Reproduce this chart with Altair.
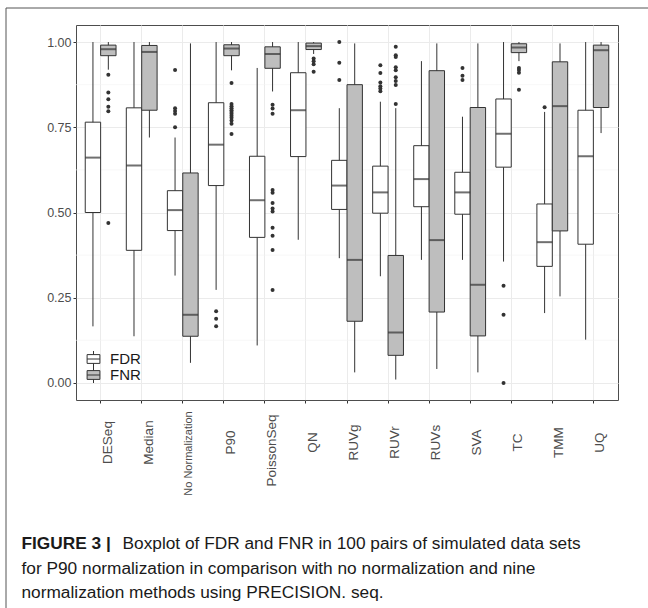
import altair as alt
import pandas as pd

FONT = "Liberation Sans"

METHODS = ["DESeq", "Median", "No Normalization", "P90", "PoissonSeq", "QN",
           "RUVg", "RUVr", "RUVs", "SVA", "TC", "TMM", "UQ"]
METRICS = ["FDR", "FNR"]

# FDR box statistics (lower whisker, Q1, median, Q3, upper whisker)
FDR_LOW = [0.166, 0.137, 0.315, 0.273, 0.110, 0.420, 0.366, 0.313, 0.361, 0.361, 0.356, 0.205, 0.127]
FDR_Q1 = [0.500, 0.389, 0.447, 0.579, 0.427, 0.664, 0.509, 0.498, 0.517, 0.495, 0.633, 0.342, 0.407]
FDR_MED = [0.661, 0.638, 0.507, 0.699, 0.536, 0.800, 0.579, 0.559, 0.598, 0.559, 0.731, 0.413, 0.665]
FDR_Q3 = [0.765, 0.807, 0.564, 0.822, 0.665, 0.910, 0.653, 0.636, 0.696, 0.618, 0.833, 0.525, 0.800]
FDR_HIGH = [1.000, 1.000, 0.720, 1.000, 0.924, 1.000, 0.806, 0.825, 0.944, 0.781, 1.000, 0.795, 1.000]

# FNR box statistics
FNR_LOW = [0.919, 0.720, 0.059, 0.917, 0.855, 0.965, 0.031, 0.010, 0.041, 0.031, 0.944, 0.254, 0.733]
FNR_Q1 = [0.960, 0.800, 0.137, 0.960, 0.923, 0.978, 0.181, 0.081, 0.208, 0.138, 0.969, 0.446, 0.808]
FNR_MED = [0.979, 0.971, 0.200, 0.981, 0.965, 0.988, 0.361, 0.148, 0.419, 0.288, 0.984, 0.812, 0.976]
FNR_Q3 = [0.991, 0.990, 0.616, 0.992, 0.986, 0.997, 0.875, 0.374, 0.916, 0.808, 0.995, 0.942, 0.991]
FNR_HIGH = [1.000, 1.000, 0.996, 1.000, 1.000, 1.000, 0.996, 0.806, 0.996, 0.996, 1.000, 0.996, 1.000]

# Outliers
OUT_DESEQ_FNR = [0.904, 0.852, 0.832, 0.810, 0.797, 0.469]
OUT_NONORM_FDR = [0.918, 0.806, 0.798, 0.790, 0.750]
OUT_P90_FDR = [0.210, 0.188, 0.166]
OUT_P90_FNR = [0.880, 0.818, 0.812, 0.806, 0.800, 0.795, 0.790, 0.784, 0.778, 0.770, 0.760, 0.730]
OUT_POISSON_FNR = [0.816, 0.805, 0.790, 0.566, 0.558, 0.528, 0.512, 0.503, 0.455, 0.432, 0.390, 0.273]
OUT_QN_FNR = [0.952, 0.944, 0.935, 0.913]
OUT_RUVG_FDR = [1.000, 0.939, 0.889]
OUT_RUVR_FDR = [0.932, 0.909, 0.881, 0.870, 0.864, 0.856]
OUT_RUVR_FNR = [0.986, 0.961, 0.956, 0.926, 0.917, 0.897, 0.886, 0.874, 0.818]
OUT_SVA_FDR = [0.924, 0.901, 0.889]
OUT_TC_FDR = [0.285, 0.200, 0.000]
OUT_TC_FNR = [0.924, 0.918, 0.910, 0.860]
OUT_TMM_FDR = [0.809]

OUTLIERS = [
    ("DESeq", "FNR", OUT_DESEQ_FNR),
    ("No Normalization", "FDR", OUT_NONORM_FDR),
    ("P90", "FDR", OUT_P90_FDR),
    ("P90", "FNR", OUT_P90_FNR),
    ("PoissonSeq", "FNR", OUT_POISSON_FNR),
    ("QN", "FNR", OUT_QN_FNR),
    ("RUVg", "FDR", OUT_RUVG_FDR),
    ("RUVr", "FDR", OUT_RUVR_FDR),
    ("RUVr", "FNR", OUT_RUVR_FNR),
    ("SVA", "FDR", OUT_SVA_FDR),
    ("TC", "FDR", OUT_TC_FDR),
    ("TC", "FNR", OUT_TC_FNR),
    ("TMM", "FDR", OUT_TMM_FDR),
]

Y_TICKS = [0.0, 0.25, 0.5, 0.75, 1.0]
MINOR_BREAKS = [0.125, 0.375, 0.625, 0.875]

CAPTION_BOLD = "FIGURE 3 |"
CAPTION_1 = "Boxplot of FDR and FNR in 100 pairs of simulated data sets"
CAPTION_2 = "for P90 normalization in comparison with no normalization and nine"
CAPTION_3 = "normalization methods using PRECISION. seq."

rows = []
for i, m in enumerate(METHODS):
    rows.append(dict(method=m, metric="FDR", lo=FDR_LOW[i], q1=FDR_Q1[i],
                     med=FDR_MED[i], q3=FDR_Q3[i], hi=FDR_HIGH[i]))
    rows.append(dict(method=m, metric="FNR", lo=FNR_LOW[i], q1=FNR_Q1[i],
                     med=FNR_MED[i], q3=FNR_Q3[i], hi=FNR_HIGH[i]))
stats = pd.DataFrame(rows)
outs = pd.DataFrame([dict(method=m, metric=k, value=v)
                     for m, k, vals in OUTLIERS for v in vals])

x_enc = alt.X(
    "method:N", sort=METHODS, title=None,
    scale=alt.Scale(paddingInner=0, paddingOuter=0.1),
    axis=alt.Axis(
        labelAngle=270, labelAlign="center", labelBaseline="top",
        labelPadding={"condition": [
            {"test": "datum.value == 'No Normalization'", "value": 50},
            {"test": "datum.value == 'PoissonSeq'", "value": 47}], "value": 39},
        labelFontSize={"condition": {"test": "datum.value == 'No Normalization'", "value": 11},
                       "value": 13.5},
        grid=True,
    ),
)
xo_enc = alt.XOffset("metric:N", sort=METRICS,
                     scale=alt.Scale(paddingInner=0, paddingOuter=1 / 3))
yscale = alt.Scale(domain=[-0.05, 1.05], nice=False, zero=False)
yaxis = alt.Axis(values=Y_TICKS, format=".2f", title=None, grid=True)

minor = alt.Chart(pd.DataFrame({"v": MINOR_BREAKS})).mark_rule(
    color="#F3F3F3", strokeWidth=0.6
).encode(y=alt.Y("v:Q", scale=yscale, axis=yaxis, title=None))

base = alt.Chart(stats)
whisk = base.mark_rule(color="#333333", strokeWidth=1).encode(
    x=x_enc, xOffset=xo_enc,
    y=alt.Y("lo:Q", scale=yscale, axis=yaxis, title=None), y2="hi:Q")

boxes = base.mark_bar(stroke="#333333", strokeWidth=1).encode(
    x=x_enc, xOffset=xo_enc,
    y=alt.Y("q1:Q", scale=yscale, axis=yaxis, title=None), y2="q3:Q",
    fill=alt.Fill("metric:N", sort=METRICS,
                  scale=alt.Scale(domain=METRICS, range=["#FFFFFF", "#BEBEBE"]),
                  legend=alt.Legend(
                      title=None, orient="none", legendX=9, legendY=326,
                      symbolType="M-0.8,-0.55H0.8V0.55H-0.8Z M-0.8,0H0.8 M0,-0.55V-1 M0,0.55V1",
                      symbolSize=256, symbolStrokeColor="#333333", symbolStrokeWidth=1,
                      labelFontSize=15, labelColor="#1a1a1a", labelFont=FONT,
                      labelOffset=8, rowPadding=0, padding=0, clipHeight=16,
                  )))

meds = base.mark_tick(color="#333333", thickness=2, size=15.4).encode(
    x=x_enc, xOffset=xo_enc,
    y=alt.Y("med:Q", scale=yscale, axis=yaxis, title=None))

pts = alt.Chart(outs).mark_circle(color="#333333", size=16, opacity=1).encode(
    x=x_enc, xOffset=xo_enc,
    y=alt.Y("value:Q", scale=yscale, axis=yaxis, title=None))

one = pd.DataFrame({"a": [0]})
frame_left = alt.Chart(one).mark_rule(color="#555555", strokeWidth=1).encode(
    x=alt.value(-70), y=alt.value(-17), y2=alt.value(583))
frame_top = alt.Chart(one).mark_rule(color="#555555", strokeWidth=1).encode(
    x=alt.value(-70), x2=alt.value(572), y=alt.value(-17))

cap_style = dict(align="left", baseline="alphabetic", fontSize=17.3, font=FONT, color="#1a1a1a")
cap0 = alt.Chart(one).mark_text(fontWeight="bold", **cap_style).encode(
    x=alt.value(-54.5), y=alt.value(524), text=alt.value(CAPTION_BOLD))
cap1 = alt.Chart(one).mark_text(**cap_style).encode(
    x=alt.value(46.5), y=alt.value(524), text=alt.value(CAPTION_1))
cap2 = alt.Chart(one).mark_text(**cap_style).encode(
    x=alt.value(-54.5), y=alt.value(548.5), text=alt.value(CAPTION_2))
cap3 = alt.Chart(one).mark_text(**cap_style).encode(
    x=alt.value(-54.5), y=alt.value(573), text=alt.value(CAPTION_3))

chart = alt.layer(minor, whisk, boxes, meds, pts, frame_left, frame_top,
                  cap0, cap1, cap2, cap3).properties(
    width=542, height=375,
    autosize=alt.AutoSizeParams(type="none"),
    padding={"left": 76, "top": 25, "right": 30, "bottom": 208},
    background="white",
).configure_view(
    stroke="#4D4D4D", strokeWidth=1,
).configure_axis(
    domain=False, tickColor="#333333", tickSize=3, tickWidth=1,
    labelColor="#4D4D4D", labelFont=FONT, labelFontSize=12.5, labelPadding=2,
    gridColor="#EBEBEB", gridWidth=1,
)

chart.save("out.html", embed_options={"renderer": "svg", "actions": False})
